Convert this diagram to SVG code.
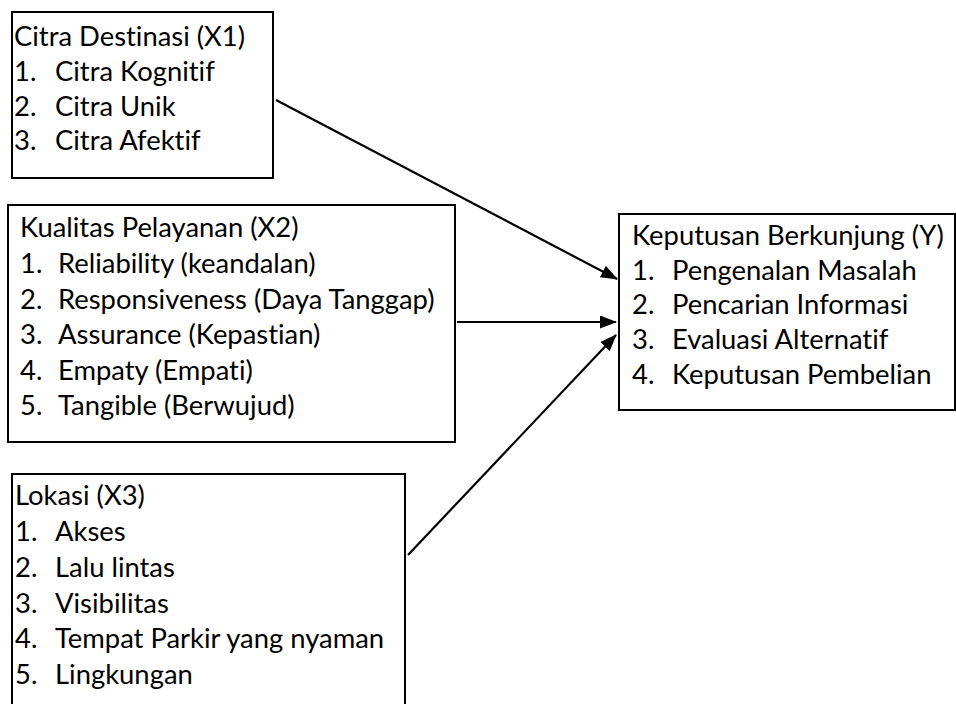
<svg xmlns="http://www.w3.org/2000/svg" width="956" height="704" viewBox="0 0 956 704">
<style>
.box{fill:#fff;stroke:#000;stroke-width:2}
text{font-family:Lato,"Liberation Sans",sans-serif;font-size:27.4px;fill:#000;font-variant-ligatures:none}
.conn{stroke:#000;stroke-width:2.2;fill:none;marker-end:url(#ah)}
</style>
<defs>
<marker id="ah" markerWidth="17" markerHeight="13" refX="16" refY="6.5" orient="auto" markerUnits="userSpaceOnUse">
<path d="M0,0 L17,6.5 L0,13 Z" fill="#000"/>
</marker>
</defs>
<rect width="956" height="704" fill="#fff"/>
<g id="x1">
<rect class="box" x="12" y="12" width="261" height="166"/>
<text x="14" y="46">Citra Destinasi (X1)</text>
<text x="14" y="81">1.</text><text x="55" y="81">Citra Kognitif</text>
<text x="14" y="116">2.</text><text x="55" y="116">Citra Unik</text>
<text x="14" y="150">3.</text><text x="55" y="150">Citra Afektif</text>
</g>
<g id="x2">
<rect class="box" x="8" y="205" width="447" height="237"/>
<text x="20" y="237">Kualitas Pelayanan (X2)</text>
<text x="20" y="273">1.</text><text x="58" y="273">Reliability (keandalan)</text>
<text x="20" y="309">2.</text><text x="58" y="309">Responsiveness (Daya Tanggap)</text>
<text x="20" y="344">3.</text><text x="58" y="344">Assurance (Kepastian)</text>
<text x="20" y="380">4.</text><text x="58" y="380">Empaty (Empati)</text>
<text x="20" y="415">5.</text><text x="58" y="415">Tangible (Berwujud)</text>
</g>
<g id="x3">
<rect class="box" x="12" y="474" width="393" height="240"/>
<text x="15" y="505">Lokasi (X3)</text>
<text x="15" y="541">1.</text><text x="55" y="541">Akses</text>
<text x="15" y="577">2.</text><text x="55" y="577">Lalu lintas</text>
<text x="15" y="613">3.</text><text x="55" y="613">Visibilitas</text>
<text x="15" y="648">4.</text><text x="55" y="648">Tempat Parkir yang nyaman</text>
<text x="15" y="684">5.</text><text x="55" y="684">Lingkungan</text>
</g>
<g id="y">
<rect class="box" x="619" y="214" width="336" height="196"/>
<text x="632" y="245">Keputusan Berkunjung (Y)</text>
<text x="632" y="280">1.</text><text x="672" y="280">Pengenalan Masalah</text>
<text x="632" y="314">2.</text><text x="672" y="314">Pencarian Informasi</text>
<text x="632" y="349">3.</text><text x="672" y="349">Evaluasi Alternatif</text>
<text x="632" y="384">4.</text><text x="672" y="384">Keputusan Pembelian</text>
</g>
<g id="connectors">
<line class="conn" x1="276" y1="100" x2="617" y2="279"/>
<line class="conn" x1="457" y1="322" x2="616" y2="322"/>
<line class="conn" x1="408" y1="555" x2="616" y2="335"/>
</g>
</svg>
